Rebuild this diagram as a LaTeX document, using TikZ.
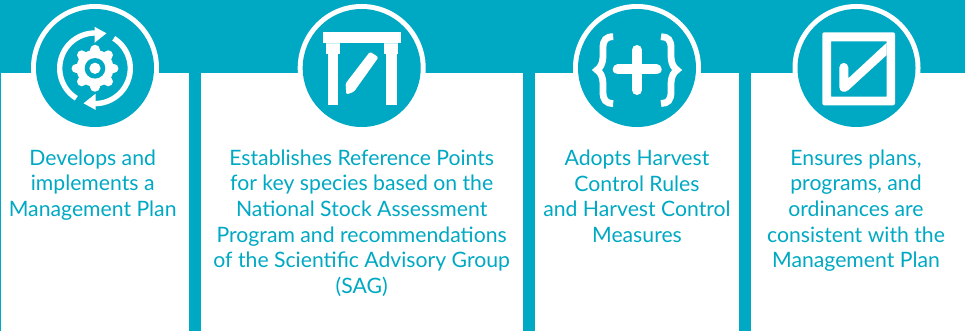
\documentclass[tikz,border=0pt]{standalone}
\usepackage{fontspec}
\setmainfont{Lato}
\definecolor{teal1}{HTML}{00A9C3}
\tikzset{
  ring/.style={circle,fill=white,minimum size=128pt,inner sep=0pt,outer sep=0pt},
  disc/.style={circle,fill=teal1,minimum size=118pt,inner sep=0pt,outer sep=0pt},
  lab/.style={text=teal1,align=center,inner sep=0pt,font=\fontsize{21.2}{25.65}\selectfont},
  panel/.style={fill=white},
  ico/.style={fill=white,draw=none}
}
\begin{document}
\begin{tikzpicture}[x=1pt,y=-1pt]
\useasboundingbox (0,0) rectangle (965,331);
\fill[teal1] (0,0) rectangle (965,331);
\fill[panel] (1,73) rectangle (189,331);
\fill[panel] (201,73) rectangle (523,331);
\fill[panel] (535,73) rectangle (739,331);
\fill[panel] (751,73) rectangle (965,331);
\node[ring] (r1) at (95,68) {};
\node[ring] (r2) at (361.7,68) {};
\node[ring] (r3) at (637,68) {};
\node[ring] (r4) at (856.5,68) {};
\node[disc] (d1) at (r1) {};
\node[disc] (d2) at (r2) {};
\node[disc] (d3) at (r3) {};
\node[disc] (d4) at (r4) {};
% icon 1: gear and arrows
\begin{scope}[shift={(95,68.3)}]
  \fill[ico] (0,0) circle (18.5);
  \foreach \a in {0,45,...,315}
    \draw[white,line width=9.5pt,line cap=round] (\a:12) -- (\a:18.7);
  \fill[teal1] (0,0) circle (10.3);
  \fill[ico] (0,0) circle (5.6);
  \foreach \rr in {0,180}{
    \begin{scope}[rotate=\rr]
      \draw[white,line width=5.4pt] plot[domain=122:270,samples=40,smooth] ({35.3*cos(\x)},{35.3*sin(\x)});
      \fill[ico] (-0.5,-41.5) -- (11.5,-35) -- (-0.5,-25.5) -- cycle;
    \end{scope}
  }
\end{scope}
% icon 2: gate and pencil
\fill[ico] (322.7,32.3) rectangle (400.7,43.3);
\fill[white!80!teal1] (326,43.3) rectangle (340,44.5);
\fill[white!80!teal1] (384,43.3) rectangle (398,44.5);
\fill[ico] (326,44.5) rectangle (340,54);
\fill[ico] (384,44.5) rectangle (398,54);
\fill[ico] (327.7,54) rectangle (338.3,105);
\fill[ico] (385.5,54) rectangle (396.7,105);
\fill[ico,rounded corners=1.5pt] (370,51.7) -- (378.5,57.3) -- (354,91.7) -- (346.3,94.6) -- (345.6,83.5) -- cycle;
% icon 3: braces and plus
\draw[white,line width=10pt,line cap=round] (617.7,69.5) -- (656.7,69.5);
\draw[white,line width=10pt,line cap=round] (637,50) -- (637,90);
\draw[white,line width=6.8pt] (613.2,36.7) .. controls (606,36.7) and (603,40) .. (603,48)
  .. controls (603,56) and (604,65) .. (597,70) .. controls (604,75) and (603,84) .. (603,92)
  .. controls (603,100) and (606,103.5) .. (613.2,103.5);
\fill[ico] (592.7,70) -- (601,64) -- (601,76) -- cycle;
\draw[white,line width=6.8pt] (661,36.7) .. controls (668,36.7) and (671,40) .. (671,48)
  .. controls (671,56) and (670,65) .. (677,70) .. controls (670,75) and (671,84) .. (671,92)
  .. controls (671,100) and (668,103.5) .. (661,103.5);
\fill[ico] (681.5,70) -- (673,64) -- (673,76) -- cycle;
% icon 4: check box
\fill[ico,rounded corners=2pt,even odd rule] (822.3,32.3) rectangle (895,105.3)
  [sharp corners] (831,41.3) rectangle (886.7,96.7);
\fill[ico] (886.7,42.7) -- (886.7,55) -- (848.5,90) .. controls (845,93.5) and (839.3,92) .. (839.3,87)
  -- (839.3,67.5) .. controls (839.3,61.5) and (848.3,61.5) .. (848.3,67.5) -- (848.3,78.3) -- cycle;
% labels
\node[lab] (t1) at (92.7,185) {Develops and\\implements a\\Management Plan};
\node[lab] (t2) at (361.7,223.2) {Establishes Reference Points\\for key species based on the\\National Stock Assessment\\Program and recommendations\\of the Scientific Advisory Group\\(SAG)};
\node[lab] (t3) at (637,196.4) {Adopts Harvest\\Control Rules\\and Harvest Control\\Measures};
\node[lab] (t4) at (856,210.5) {Ensures plans,\\programs, and\\ordinances are\\consistent with the\\Management Plan};
\end{tikzpicture}
\end{document}
